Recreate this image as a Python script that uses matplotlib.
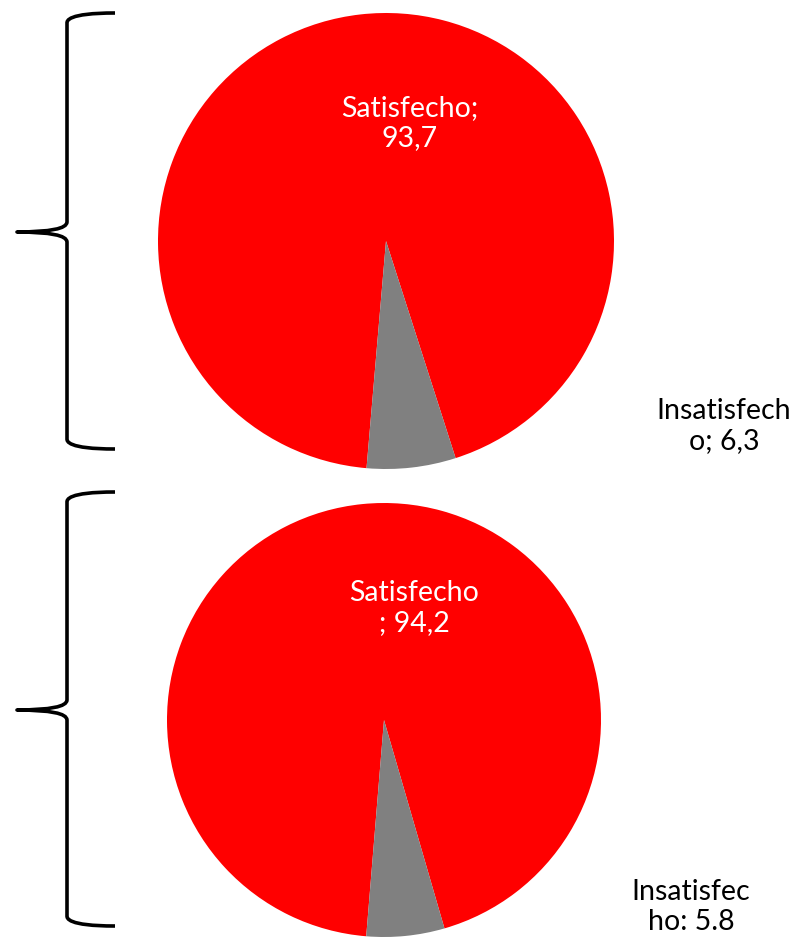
import matplotlib
matplotlib.use("Agg")
import matplotlib.pyplot as plt
from matplotlib.path import Path
from matplotlib.patches import PathPatch

categories = ["Satisfecho", "Insatisfecho"]
values_top = [93.7, 6.3]
values_bottom = [94.2, 5.8]
labels_top = ["Satisfecho;\n93,7", "Insatisfech\no; 6,3"]
labels_bottom = ["Satisfecho\n; 94,2", "Insatisfec\nho: 5.8"]
colors = ["#FF0000", "#808080"]

plt.rcParams['font.family'] = ['Lato', 'DejaVu Sans']

fig = plt.figure(figsize=(8, 9.38), dpi=100)
ax = fig.add_axes([0, 0, 1, 1])

def pie(vals, center, radius, start):
    ax.pie(vals, colors=colors, center=center, radius=radius,
           startangle=start, counterclock=True, frame=True,
           wedgeprops=dict(linewidth=0))

pie(values_top, (386, 241), 228, 94.9)
pie(values_bottom, (384, 720), 217, 94.7)
ax.set_xlim(0, 800)
ax.set_ylim(938, 0)
ax.set_aspect('equal')
ax.axis('off')

fs = 20.5
ls = 1.22
ax.text(410, 123, labels_top[0], color="white", fontsize=fs, ha="center", va="center", linespacing=ls)
ax.text(724, 426, labels_top[1], color="black", fontsize=fs, ha="center", va="center", linespacing=ls)
ax.text(414, 608, labels_bottom[0], color="white", fontsize=fs, ha="center", va="center", linespacing=ls)
ax.text(691, 907, labels_bottom[1], color="black", fontsize=fs, ha="center", va="center", linespacing=ls)

def brace(y0, y1, ytip):
    xe, xv, xt = 115, 67, 17
    verts = [(xe, y0), (xv, y0), (xv, y0 + 8), (xv, y0 + 10),
             (xv, ytip - 10), (xv, ytip), (xt, ytip),
             (xv, ytip), (xv, ytip + 10),
             (xv, y1 - 10), (xv, y1 - 8), (xv, y1), (xe, y1)]
    codes = [Path.MOVETO, Path.CURVE4, Path.CURVE4, Path.CURVE4,
             Path.LINETO, Path.CURVE3, Path.CURVE3,
             Path.CURVE3, Path.CURVE3,
             Path.LINETO, Path.CURVE4, Path.CURVE4, Path.CURVE4]
    ax.add_patch(PathPatch(Path(verts, codes), fill=False, lw=2.6, color="black",
                           capstyle="butt", joinstyle="round"))

brace(13, 449, 232)
brace(492, 926, 710)

fig.savefig("out.png", dpi=100)
